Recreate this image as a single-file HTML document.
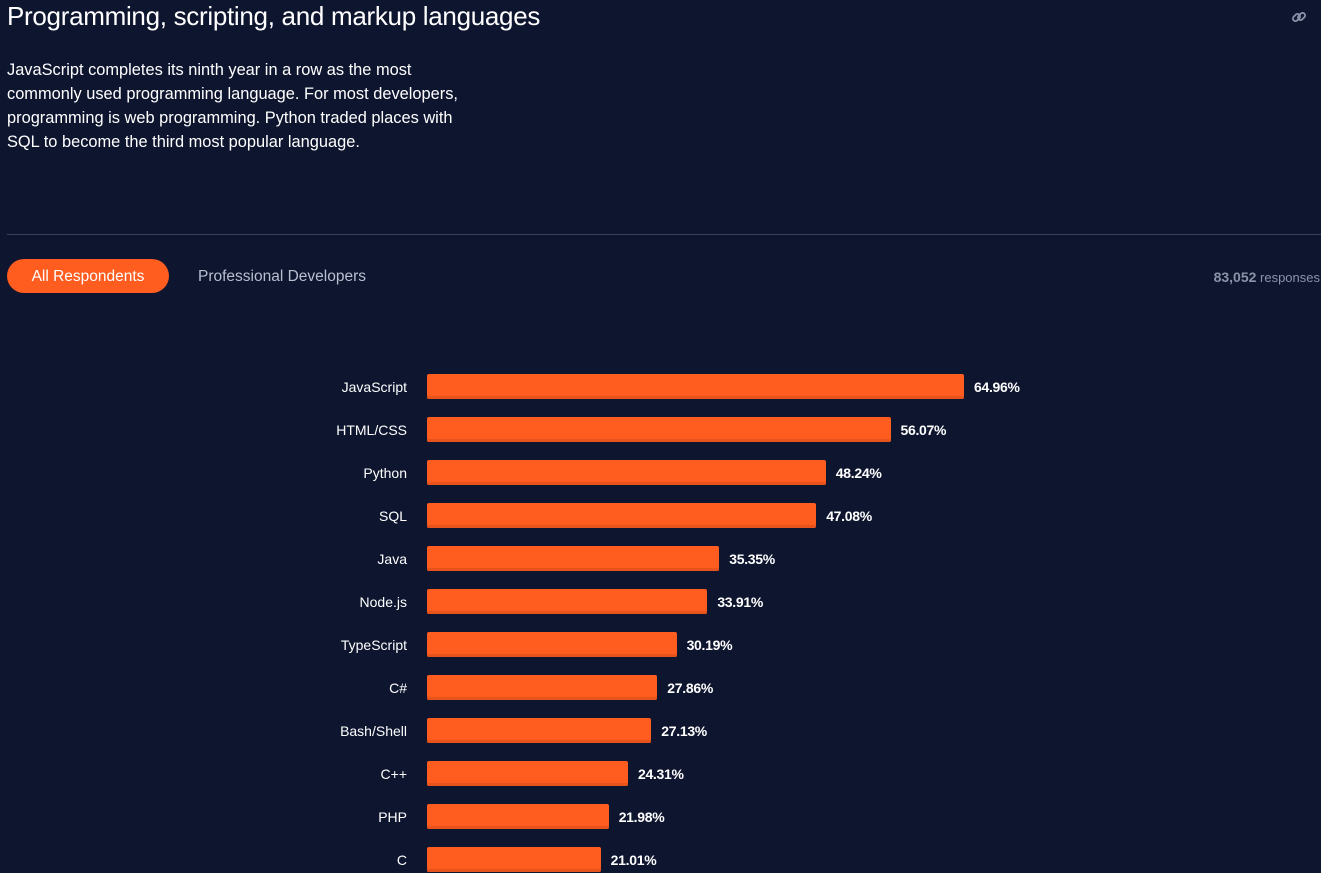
<!DOCTYPE html>
<html><head><meta charset="utf-8"><style>
body{margin:0;width:1321px;height:873px;background:#0e152f;font-family:"Liberation Sans",sans-serif;color:#fff;overflow:hidden;position:relative}
.abs{position:absolute}
</style></head><body>
<div class="abs" style="left:7px;top:1px;font-size:26px;white-space:nowrap;letter-spacing:-0.3px">Programming, scripting, and markup languages</div>
<div class="abs" style="left:1291px;top:9px;width:16px;height:16px"><svg width="16" height="16" viewBox="0 0 16 16"><g fill="none" stroke="#8a93a8" stroke-width="1.8"><rect x="1.5" y="6" width="8" height="5" rx="2.5" transform="rotate(-45 5.5 8.5)"/><rect x="6.5" y="5" width="8" height="5" rx="2.5" transform="rotate(-45 10.5 7.5)"/></g></svg></div>
<div class="abs" style="left:7px;top:58px;width:480px;font-size:16.4px;line-height:24px;letter-spacing:0;white-space:nowrap">JavaScript completes its ninth year in a row as the most<br>commonly used programming language. For most developers,<br>programming is web programming. Python traded places with<br>SQL to become the third most popular language.</div>
<div class="abs" style="left:7px;top:234px;width:1314px;height:1px;background:#3a4160"></div>
<div class="abs" style="left:7px;top:259px;width:162px;height:34px;border-radius:17px;background:#ff5c1f;font-size:15.5px;line-height:36px;text-align:center">All Respondents</div>
<div class="abs" style="left:198px;top:259px;font-size:15.5px;line-height:36px;color:#b8bfcf">Professional Developers</div>
<div class="abs" style="right:1px;top:260px;font-size:13px;line-height:34px;color:#8a93a8"><b style="font-size:14px">83,052</b> responses</div>
<div id="chart"></div>
<script>
const categories=["JavaScript","HTML/CSS","Python","SQL","Java","Node.js","TypeScript","C#","Bash/Shell","C++","PHP","C"];
const values=[64.96,56.07,48.24,47.08,35.35,33.91,30.19,27.86,27.13,24.31,21.98,21.01];
const x0=427,pxPer=537/64.96,y0=374,step=43,bh=25;
const xs=v=>v*pxPer;
const chart=document.getElementById('chart');
categories.forEach((c,i)=>{
  const y=y0+i*step;
  const l=document.createElement('div');
  
  
  l.className='abs';
  l.style.cssText=`right:${1321-407}px;top:${y+1}px;line-height:${bh}px;font-size:14px;white-space:nowrap`;
  l.textContent=c;chart.appendChild(l);
  const b=document.createElement('div');
  
  
  b.className='abs';
  b.style.cssText=`left:${x0}px;top:${y}px;width:${xs(values[i])}px;height:${bh}px;background:#ff5c1f;border-radius:2px;box-shadow:inset 0 -3px 0 #e8521b`;
  chart.appendChild(b);
  const v=document.createElement('div');
  
  
  v.className='abs';
  v.style.cssText=`left:${x0+xs(values[i])+10}px;top:${y+1}px;line-height:${bh}px;font-size:14px;font-weight:bold;white-space:nowrap;letter-spacing:-0.3px`;
  v.textContent=values[i].toFixed(2)+'%';chart.appendChild(v);
});
</script>
</body></html>
